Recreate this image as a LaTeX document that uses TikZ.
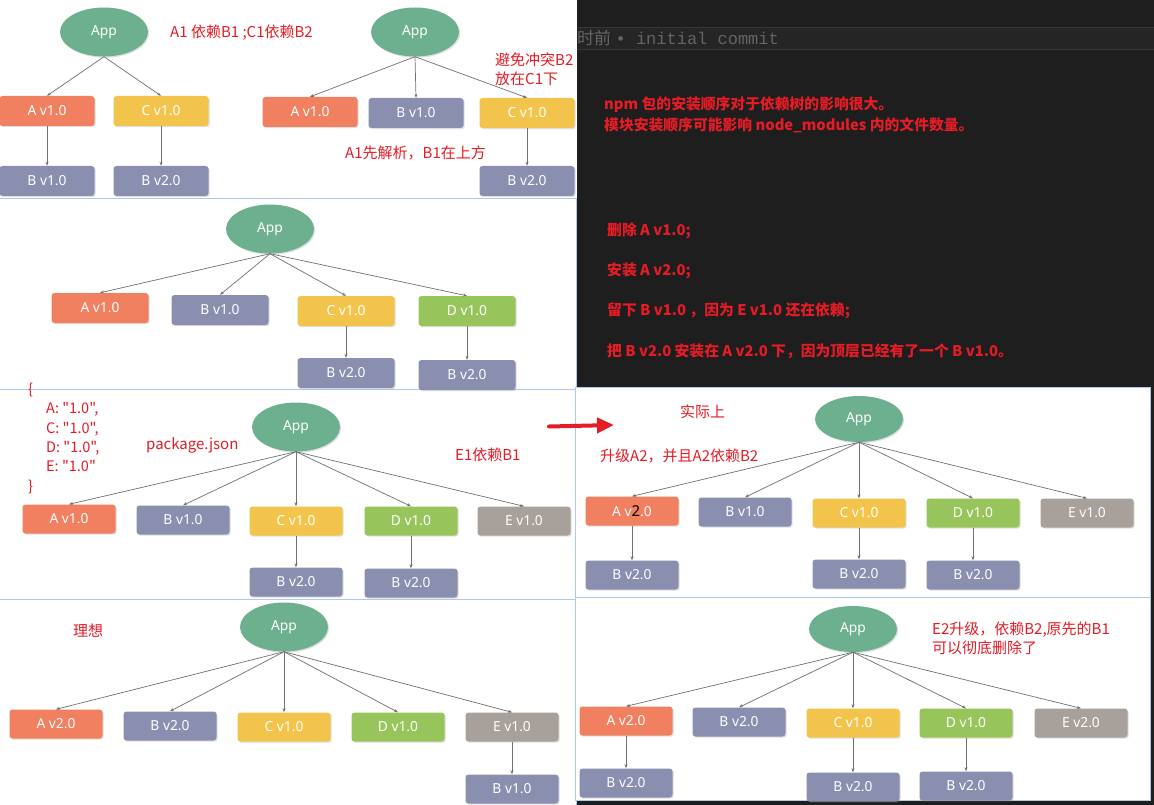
\documentclass[tikz,border=0pt]{standalone}
\usepackage{fontspec}
\setmainfont{Noto Sans}
\newfontfamily\cjk{Noto Sans CJK SC}
\newfontfamily\monof{Liberation Mono}
\usetikzlibrary{arrows.meta,shapes.geometric,shadows}
\definecolor{cA}{RGB}{240,128,96}
\definecolor{cB}{RGB}{138,143,176}
\definecolor{cC}{RGB}{242,196,76}
\definecolor{cD}{RGB}{152,196,92}
\definecolor{cE}{RGB}{168,160,155}
\definecolor{cApp}{RGB}{108,176,143}
\definecolor{cLine}{RGB}{112,112,112}
\definecolor{cRed}{RGB}{228,28,38}
\definecolor{cDark}{RGB}{30,30,30}
\definecolor{cBand}{RGB}{37,37,38}
\definecolor{cBandLine}{RGB}{55,55,55}
\definecolor{cPanel}{RGB}{175,200,238}
\definecolor{cGrayText}{RGB}{100,100,100}
\tikzset{
  box/.style={rectangle,rounded corners=3pt,minimum width=93pt,minimum height=29pt,
    inner sep=0pt,text=white,font=\fontsize{13.8}{15}\selectfont,
    drop shadow={shadow xshift=1.2pt,shadow yshift=-1.2pt,opacity=0.25}},
  bigbox/.style={box,minimum width=95pt,minimum height=30pt},
  app/.style={ellipse,fill=cApp,minimum width=88pt,minimum height=49pt,inner sep=0pt,
    text=white,font=\fontsize{13.8}{15}\selectfont,
    drop shadow={shadow xshift=1.2pt,shadow yshift=-1.2pt,opacity=0.25}},
  dep/.style={draw=cLine,line width=0.7pt,-{Stealth[length=4pt,width=3pt]}},
  note/.style={text=cRed,font=\cjk\fontsize{15}{19}\selectfont,anchor=west,inner sep=0pt},
  mnote/.style={note,anchor=north west,align=left},
  darknote/.style={text=cRed,font=\cjk\bfseries\fontsize{14.8}{20}\selectfont,anchor=west,inner sep=0pt},
  panelline/.style={draw=cPanel,line width=1pt},
}
\begin{document}
\begin{tikzpicture}[x=1pt,y=-1pt]
\useasboundingbox (0,0) rectangle (1154,805);
% backgrounds
\fill[white] (0,0) rectangle (577,805);
\fill[cDark] (577,0) rectangle (1154,805);
\fill[cBand] (577,27) rectangle (1154,50);
\draw[cBandLine] (577,27.5) -- (1154,27.5) (577,49.5) -- (1154,49.5);
\draw[panelline] (0,199) -- (577,199) (0,389) -- (577,389) (0,599) -- (577,599);
\draw[panelline] (576.5,199) -- (576.5,805);
\filldraw[fill=white,panelline] (575,387) rectangle (1150,597);
\filldraw[fill=white,panelline] (575,597) rectangle (1150,800);

% dark area texts
\node[anchor=west,inner sep=0pt,text=cGrayText,font=\fontsize{17}{20}\selectfont] (commit) at (577,38) {{\cjk 时前} {\monof • initial commit}};
\node[darknote] (t1) at (604,105) {npm 包的安装顺序对于依赖树的影响很大。};
\node[darknote] (t2) at (604,125) {模块安装顺序可能影响 node\_modules 内的文件数量。};
\node[darknote] (t3) at (607,231) {删除 A v1.0;};
\node[darknote] (t4) at (607,271) {安装 A v2.0;};
\node[darknote] (t5) at (607,311) {留下 B v1.0 ，因为 E v1.0 还在依赖;};
\node[darknote] (t6) at (607,351) {把 B v2.0 安装在 A v2.0 下，因为顶层已经有了一个 B v1.0。};

% ===== Panel 1 left
\node[app] (p1app) at (104,32) {App};
\node[bigbox,fill=cA] (p1A) at (47,111) {A v1.0};
\node[bigbox,fill=cC] (p1C) at (161,111) {C v1.0};
\node[bigbox,fill=cB] (p1B1) at (47,181) {B v1.0};
\node[bigbox,fill=cB] (p1B2) at (161,181) {B v2.0};
\draw[dep] (p1app.south) -- (p1A.north);
\draw[dep] (p1app.south) -- (p1C.north);
\draw[dep] (p1A) -- (p1B1);
\draw[dep] (p1C) -- (p1B2);
\node[note] (n1) at (170,33) {A1 依赖B1 ;C1依赖B2};

% ===== Panel 1 right
\node[app] (q1app) at (415,32) {App};
\node[bigbox,fill=cA] (q1A) at (310,112) {A v1.0};
\node[bigbox,fill=cB] (q1B) at (416,113) {B v1.0};
\node[bigbox,fill=cC] (q1C) at (527,113) {C v1.0};
\node[bigbox,fill=cB] (q1B2) at (527,181) {B v2.0};
\draw[dep] (q1app.south) -- (q1A.north);
\draw[dep] (q1app.south) -- (q1B.north);
\draw[dep] (q1app.south) -- (q1C.north);
\draw[dep] (q1C) -- (q1B2);
\node[mnote] (n2) at (495,53) {避免冲突B2\\放在C1下};
\node[note] (n3) at (345,153) {A1先解析，B1在上方};

% ===== Panel 2
\node[app] (p2app) at (270,229) {App};
\node[bigbox,minimum width=97pt,fill=cA] (p2A) at (100,308) {A v1.0};
\node[bigbox,minimum width=97pt,fill=cB] (p2B) at (220,310) {B v1.0};
\node[bigbox,minimum width=97pt,fill=cC] (p2C) at (346,311) {C v1.0};
\node[bigbox,minimum width=97pt,fill=cD] (p2D) at (467,311) {D v1.0};
\node[bigbox,minimum width=97pt,fill=cB] (p2CB) at (346,373) {B v2.0};
\node[bigbox,minimum width=97pt,fill=cB] (p2DB) at (467,375) {B v2.0};
\foreach \t in {p2A,p2B,p2C,p2D} \draw[dep] (p2app.south) -- (\t.north);
\draw[dep] (p2C) -- (p2CB);
\draw[dep] (p2D) -- (p2DB);

% ===== Panel 3 left
\node[app] (p3app) at (296,427) {App};
\node[box,fill=cA] (p3A) at (69,519) {A v1.0};
\node[box,fill=cB] (p3B) at (183,520) {B v1.0};
\node[box,fill=cC] (p3C) at (296,521) {C v1.0};
\node[box,fill=cD] (p3D) at (411,521) {D v1.0};
\node[box,fill=cE] (p3E) at (524,521) {E v1.0};
\node[box,fill=cB] (p3CB) at (296,582) {B v2.0};
\node[box,fill=cB] (p3DB) at (411,583) {B v2.0};
\foreach \t in {p3A,p3B,p3C,p3D,p3E} \draw[dep] (p3app.south) -- (\t.north);
\draw[dep] (p3C) -- (p3CB);
\draw[dep] (p3D) -- (p3DB);
\node[note,anchor=north west,align=left,font=\cjk\fontsize{14.5}{19.3}\selectfont] (json) at (28,383) {\{\\\hspace*{18pt}A: "1.0",\\\hspace*{18pt}C: "1.0",\\\hspace*{18pt}D: "1.0",\\\hspace*{18pt}E: "1.0"\\\}};
\node[note] (n4) at (146,445) {package.json};
\node[note] (n5) at (455,455) {E1依赖B1};
\coordinate (ra1) at (549,426.5);
\coordinate (ra2) at (614,425);
\draw[cRed,line width=4pt,line cap=round,-{Triangle[length=17pt,width=15pt]}] (ra1) -- (ra2);

% ===== Panel right 1
\node[app,minimum height=46pt] (r1app) at (859,419) {App};
\node[box,fill=cA] (r1A) at (632,511) {A v{\color{black}\fontsize{15}{15}\selectfont 2}.0};
\node[box,fill=cB] (r1B) at (745,512) {B v1.0};
\node[box,fill=cC] (r1C) at (859,513) {C v1.0};
\node[box,fill=cD] (r1D) at (973,513) {D v1.0};
\node[box,fill=cE] (r1E) at (1087,513) {E v1.0};
\node[box,fill=cB] (r1AB) at (632,575) {B v2.0};
\node[box,fill=cB] (r1CB) at (859,574) {B v2.0};
\node[box,fill=cB] (r1DB) at (973,575) {B v2.0};
\foreach \t in {r1A,r1B,r1C,r1D,r1E} \draw[dep] (r1app.south) -- (\t.north);
\draw[dep] (r1A) -- (r1AB);
\draw[dep] (r1C) -- (r1CB);
\draw[dep] (r1D) -- (r1DB);
\node[note] (n6) at (680,412) {实际上};
\node[note] (n7) at (600,456) {升级A2，并且A2依赖B2};

% ===== Panel 4 left
\node[app] (p4app) at (284,627) {App};
\node[box,fill=cA] (p4A) at (56,724) {A v2.0};
\node[box,fill=cB] (p4B) at (170,726) {B v2.0};
\node[box,fill=cC] (p4C) at (284,727) {C v1.0};
\node[box,fill=cD] (p4D) at (398,727) {D v1.0};
\node[box,fill=cE] (p4E) at (512,727) {E v1.0};
\node[box,fill=cB] (p4EB) at (512,789) {B v1.0};
\foreach \t in {p4A,p4B,p4C,p4D,p4E} \draw[dep] (p4app.south) -- (\t.north);
\draw[dep] (p4E) -- (p4EB);
\node[note] (n8) at (73,631) {理想};

% ===== Panel right 2
\node[app,minimum height=46pt] (r2app) at (853,629) {App};
\node[box,fill=cA] (r2A) at (626,721) {A v2.0};
\node[box,fill=cB] (r2B) at (739,722) {B v2.0};
\node[box,fill=cC] (r2C) at (853,723) {C v1.0};
\node[box,fill=cD] (r2D) at (966,723) {D v1.0};
\node[box,fill=cE] (r2E) at (1081,723) {E v2.0};
\node[box,fill=cB] (r2AB) at (626,783) {B v2.0};
\node[box,fill=cB] (r2CB) at (853,787) {B v2.0};
\node[box,fill=cB] (r2DB) at (966,786) {B v2.0};
\foreach \t in {r2A,r2B,r2C,r2D,r2E} \draw[dep] (r2app.south) -- (\t.north);
\draw[dep] (r2A) -- (r2AB);
\draw[dep] (r2C) -- (r2CB);
\draw[dep] (r2D) -- (r2DB);
\node[mnote] (n9) at (932,622) {E2升级，依赖B2,原先的B1\\可以彻底删除了};
\end{tikzpicture}
\end{document}
